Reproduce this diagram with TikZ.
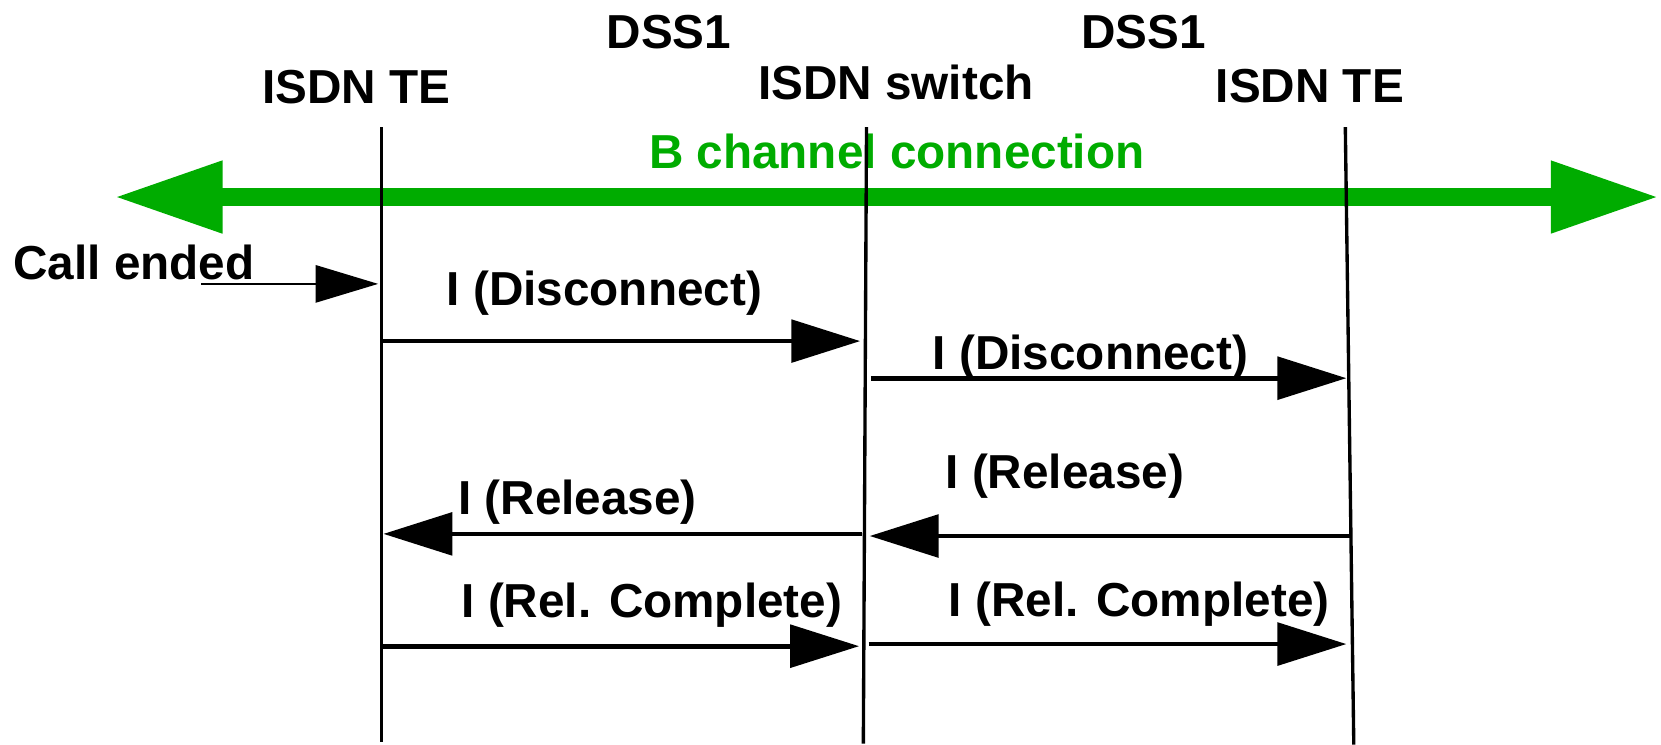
\documentclass[tikz,border=0pt]{standalone}
\usepackage{fontspec}
\setmainfont{Liberation Sans}
\usetikzlibrary{arrows.meta}
\definecolor{bgreen}{RGB}{0,172,0}
\begin{document}
\begin{tikzpicture}[x=0.01cm,y=-0.01cm,
  lbl/.style={anchor=base west, inner sep=0pt, font=\fontsize{12.8}{15}\selectfont\bfseries},
  glbl/.style={lbl, text=bgreen},
  life/.style={line width=0.9pt},
  msg/.style={line width=1.25pt, -{Triangle[length=0.65cm,width=0.4cm]}},
  trig/.style={line width=0.7pt, -{Triangle[length=0.59cm,width=0.35cm]}},
  bchan/.style={line width=0.17cm, draw=bgreen,
    {Triangle[length=1.02cm,width=0.64cm]}-{Triangle[length=1.02cm,width=0.64cm]}}]
\useasboundingbox (0,0) rectangle (1568,703);

% headers
\node[lbl] (dss1a) at (572,45.6) {DSS1};
\node[lbl] (dss1b) at (1020,45.6) {DSS1};
\node[lbl] (teA) at (247,98) {ISDN TE};
\node[lbl] (sw) at (715,94) {ISDN switch};
\node[lbl] (teB) at (1147,97) {ISDN TE};
\node[glbl] (bch) at (612,159) {B channel connection};

% B channel
\coordinate (gL) at (108,186);
\coordinate (gR) at (1566,186);
\draw[bchan] (gL) -- (gR);

% lifelines
\coordinate (aT) at (360,120); \coordinate (aB) at (360,700);
\coordinate (bT) at (818,120); \coordinate (bB) at (815,702);
\coordinate (cT) at (1270,120); \coordinate (cB) at (1278,703);
\draw[life] (aT) -- (aB);
\draw[life] (bT) -- (bB);
\draw[life] (cT) -- (cB);

% call ended
\node[lbl] (call) at (12,264) {Call ended};
\coordinate (callS) at (190,268);
\coordinate (callE) at (357,268);
\draw[trig] (callS) -- (callE);

% messages
\coordinate (d1s) at (362,322); \coordinate (d1e) at (812,322);
\coordinate (d2s) at (822,357); \coordinate (d2e) at (1271,357);
\coordinate (r2s) at (1274,506); \coordinate (r2e) at (821,506);
\coordinate (r1s) at (814,504); \coordinate (r1e) at (362,504);
\coordinate (c1s) at (362,610); \coordinate (c1e) at (811,610);
\coordinate (c2s) at (820,608); \coordinate (c2e) at (1271,608);

\draw[msg] (d1s) -- (d1e);
\draw[msg] (d2s) -- (d2e);
\draw[msg] (r2s) -- (r2e);
\draw[msg] (r1s) -- (r1e);
\draw[msg] (c1s) -- (c1e);
\draw[msg] (c2s) -- (c2e);

\node[lbl] (ld1) at (421,288) {I (Disconnect)};
\node[lbl] (ld2) at (880,349) {I (Disconnect)};
\node[lbl] (lr2) at (892,461) {I (Release)};
\node[lbl] (lr1) at (432,486) {I (Release)};
\node[lbl] (lc1) at (435,583) {I (Rel. Complete)};
\node[lbl] (lc2) at (895,582) {I (Rel. Complete)};
\end{tikzpicture}
\end{document}
